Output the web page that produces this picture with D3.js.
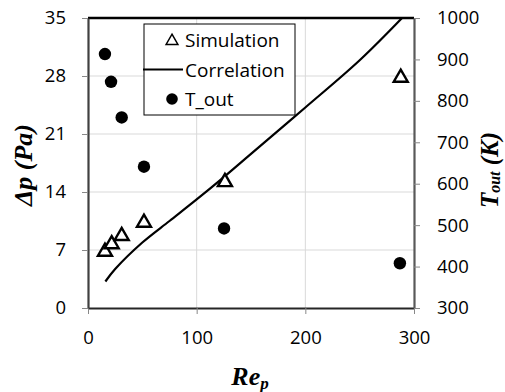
<!DOCTYPE html>
<html><head><meta charset="utf-8">
<script src="https://cdn.jsdelivr.net/npm/d3@7"></script>
<style>body{margin:0;background:#fff}</style>
</head><body><svg id="c" width="505" height="392"></svg>
<script>
const simRe = [15.6, 21.8, 31, 51.5, 126, 287.8];
const simDp = [6.8, 7.7, 8.7, 10.3, 15.2, 27.8];
const corrRe = [16, 25, 50, 75, 100, 125, 150, 200, 250, 289];
const corrDp = [3.2, 4.7, 7.9, 10.5, 13.1, 15.8, 18.6, 24.2, 29.9, 35];
const toutRe = [15.6, 21.2, 31, 51.5, 125.2, 287];
const toutT = [913, 846, 760, 641, 492, 408];
const xTicks = [0, 100, 200, 300];
const yTicks = [0, 7, 14, 21, 28, 35];
const y2Ticks = [300, 400, 500, 600, 700, 800, 900, 1000];

const svg = d3.select("#c");
const L = 88, R = 414, T = 18, B = 308;
const x = d3.scaleLinear().domain([0, 300]).range([L, R]);
const y = d3.scaleLinear().domain([0, 35]).range([B, T]);
const y2 = d3.scaleLinear().domain([300, 1000]).range([B, T]);
const tickFont = "'Open Sans', sans-serif";

// gridlines
svg.append("g").selectAll("line").data(xTicks.slice(1, -1)).join("line")
  .attr("x1", d => x(d)).attr("x2", d => x(d)).attr("y1", T).attr("y2", B)
  .attr("stroke", "#d9d9d9").attr("stroke-width", 1);
svg.append("g").selectAll("line").data(yTicks.slice(1, -1)).join("line")
  .attr("y1", d => y(d)).attr("y2", d => y(d)).attr("x1", L).attr("x2", R)
  .attr("stroke", "#d9d9d9").attr("stroke-width", 1);

// top border
svg.append("line").attr("x1", L).attr("x2", R).attr("y1", T).attr("y2", T)
  .attr("stroke", "#000").attr("stroke-width", 2.5);

function styleAxis(g, color) {
  g.select(".domain").attr("stroke", color).attr("stroke-width", 2.2);
  g.selectAll(".tick line").attr("stroke", "#888").attr("stroke-width", 1);
  g.selectAll(".tick text").attr("font-family", tickFont).attr("font-size", 18.5).attr("fill", "#000");
}
const fmt = d3.format("d");
const gx = svg.append("g").attr("transform", `translate(0,${B})`)
  .call(d3.axisBottom(x).tickValues(xTicks).tickFormat(fmt).tickSize(6).tickSizeOuter(0).tickPadding(17));
styleAxis(gx, "#262626");
const gy = svg.append("g").attr("transform", `translate(${L},0)`)
  .call(d3.axisLeft(y).tickValues(yTicks).tickFormat(fmt).tickSize(6).tickSizeOuter(0).tickPadding(16));
styleAxis(gy, "#404040");
const gy2 = svg.append("g").attr("transform", `translate(${R},0)`)
  .call(d3.axisRight(y2).tickValues(y2Ticks).tickFormat(fmt).tickSize(6).tickSizeOuter(0).tickPadding(17));
styleAxis(gy2, "#595959");

// correlation line
const line = d3.line().x(d => x(d[0])).y(d => y(d[1])).curve(d3.curveCatmullRom);
svg.append("path").datum(corrRe.map((r, i) => [r, corrDp[i]]))
  .attr("d", line).attr("fill", "none").attr("stroke", "#000").attr("stroke-width", 2.2);

// simulation triangles
const tri = d3.symbol().type(d3.symbolTriangle).size(85);
svg.append("g").selectAll("path").data(simRe.map((r, i) => [r, simDp[i]])).join("path")
  .attr("d", tri).attr("transform", d => `translate(${x(d[0])},${y(d[1])})`)
  .attr("fill", "#fff").attr("stroke", "#000").attr("stroke-width", 2.4);

// T_out dots
svg.append("g").selectAll("circle").data(toutRe.map((r, i) => [r, toutT[i]])).join("circle")
  .attr("cx", d => x(d[0])).attr("cy", d => y2(d[1])).attr("r", 6.2).attr("fill", "#000");

// legend
const lg = svg.append("g");
lg.append("rect").attr("x", 144).attr("y", 24).attr("width", 151).attr("height", 91)
  .attr("fill", "#fff").attr("stroke", "#000").attr("stroke-width", 1);
const legY = [40, 69.5, 99];
const legTxt = ["Simulation", "Correlation", "T_out"];
lg.append("path").attr("d", d3.symbol().type(d3.symbolTriangle).size(60)())
  .attr("transform", `translate(172,${legY[0] + 1})`).attr("fill", "#fff").attr("stroke", "#000").attr("stroke-width", 1.5);
lg.append("line").attr("x1", 143).attr("x2", 183).attr("y1", legY[1]).attr("y2", legY[1])
  .attr("stroke", "#000").attr("stroke-width", 2.2);
lg.append("circle").attr("cx", 172).attr("cy", legY[2]).attr("r", 5.8).attr("fill", "#000");
lg.selectAll("text").data(legTxt).join("text")
  .attr("x", 185).attr("y", (d, i) => legY[i] + 7)
  .attr("font-family", tickFont).attr("font-size", 19).text(d => d);

// axis titles
const serif = "'Liberation Serif', 'Times New Roman', serif";
svg.append("text").attr("transform", "translate(32,165) rotate(-90)")
  .attr("text-anchor", "middle").attr("font-family", serif).attr("font-size", 26)
  .attr("font-weight", "bold").attr("font-style", "italic").text("Δp (Pa)");
const t2 = svg.append("text").attr("transform", "translate(498,170) rotate(-90)")
  .attr("text-anchor", "middle").attr("font-family", serif).attr("font-size", 25)
  .attr("font-weight", "bold").attr("font-style", "italic");
t2.append("tspan").text("T");
t2.append("tspan").attr("font-size", 16).attr("dy", 2).text("out");
t2.append("tspan").attr("dy", -2).text(" (K)");
const t3 = svg.append("text").attr("x", 250).attr("y", 385)
  .attr("text-anchor", "middle").attr("font-family", serif).attr("font-size", 26)
  .attr("font-weight", "bold").attr("font-style", "italic");
t3.append("tspan").text("Re");
t3.append("tspan").attr("font-size", 17).attr("dy", 4).text("p");
</script></body></html>
